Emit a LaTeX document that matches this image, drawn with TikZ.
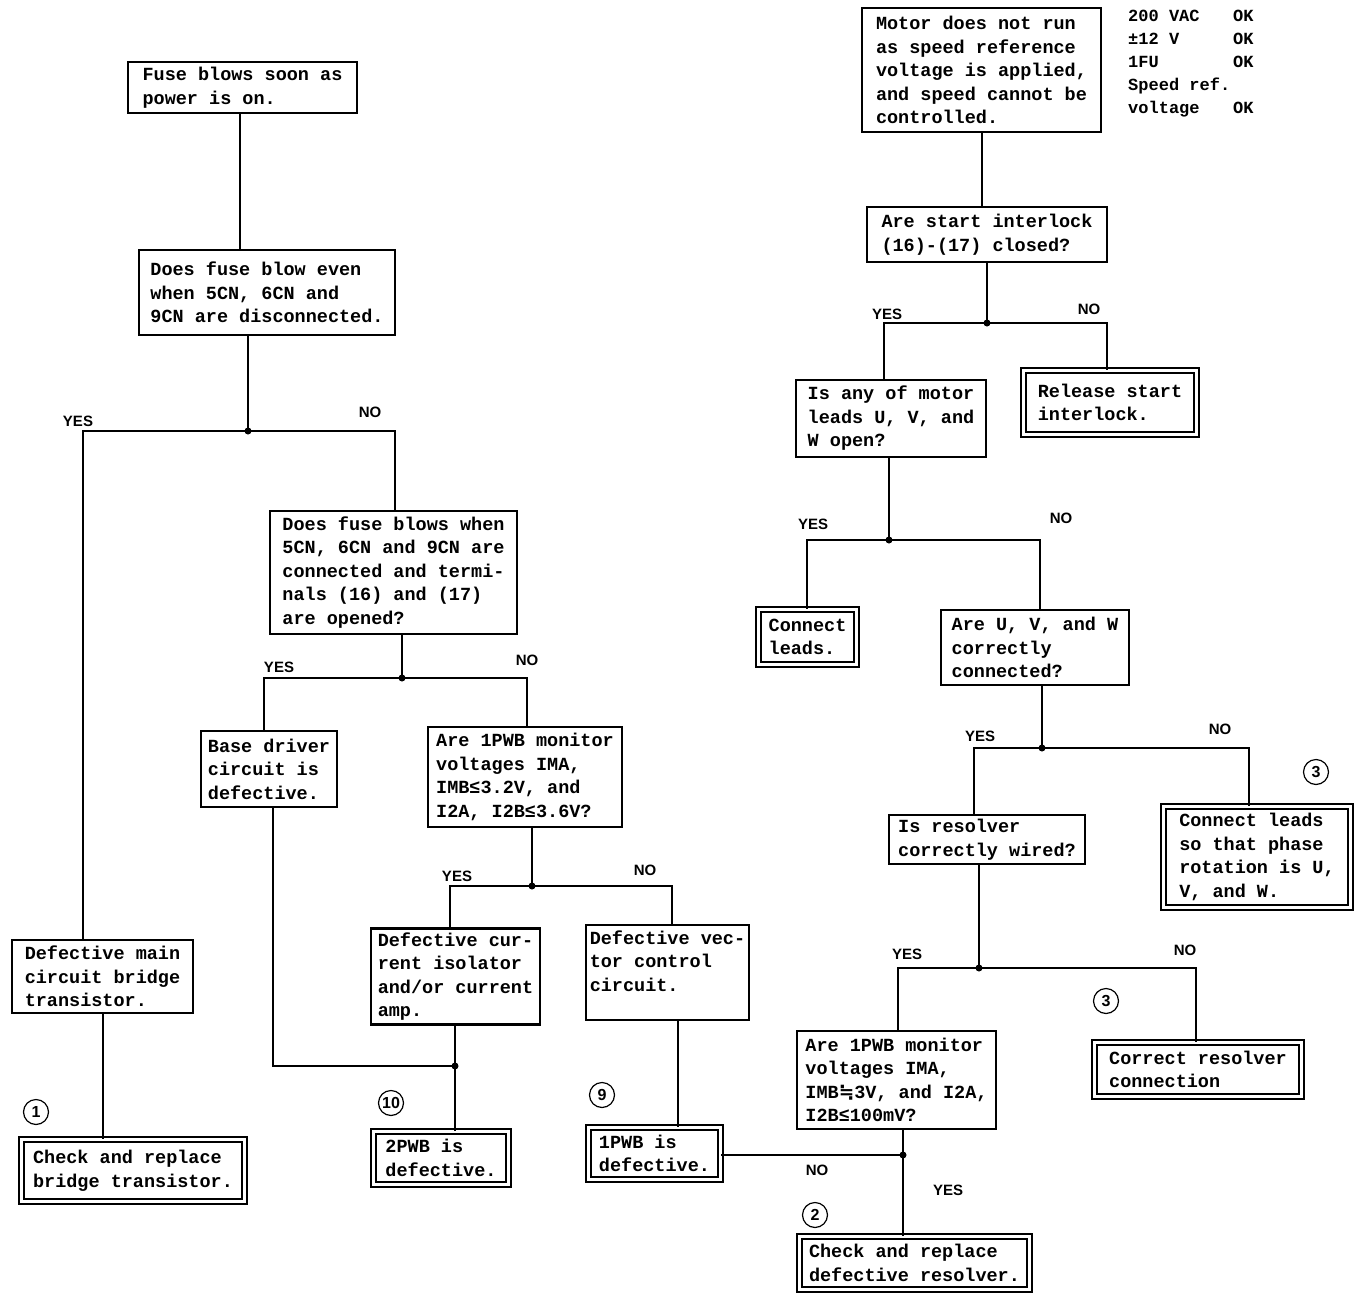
\documentclass[tikz,border=0pt]{standalone}
\usepackage{fontspec}
\newfontfamily\boxfont{Liberation Mono}
\newfontfamily\labfont{Liberation Sans}
\newfontfamily\symfont{DejaVu Sans}
\begin{document}
\begin{tikzpicture}[x=1pt,y=-1pt,
  box/.style={draw, line width=2.2pt, align=left, inner sep=4pt,
    font=\boxfont\bfseries\fontsize{18.5pt}{23.5pt}\selectfont},
  dbox/.style={box, line width=1.8pt, double, double distance=3.5pt},
  lab/.style={font=\labfont\bfseries\fontsize{15pt}{18pt}\selectfont},
  conn/.style={line width=2pt},
  num/.style={draw, circle, line width=1.2pt, inner sep=0pt, minimum size=25pt,
    font=\labfont\bfseries\fontsize{16pt}{18pt}\selectfont},
  jdot/.style={fill=black}]
\useasboundingbox (0,0) rectangle (1361,1296);
\fill[white] (0,0) rectangle (1361,1296);

% ---------- left part ----------
\node[box, minimum width=229pt, minimum height=51pt] (n1) at (242.5,87.5) {Fuse blows soon as\\power is on.};
\node[box, minimum width=256pt, minimum height=85pt] (n2) at (267,292.5) {Does fuse blow even\\when 5CN, 6CN and\\9CN are disconnected.};
\node[box, minimum width=181pt, minimum height=73pt] (n3) at (102.5,976.5) {Defective main\\circuit bridge\\transistor.};
\node[box, minimum width=247pt, minimum height=123pt, inner ysep=2pt] (n4) at (393.5,572.5) {Does fuse blows when\\5CN, 6CN and 9CN are\\connected and termi-\\nals (16) and (17)\\are opened?};
\node[box, minimum width=136pt, minimum height=76pt] (n5) at (269,769) {Base driver\\circuit is\\defective.};
\node[box, minimum width=194pt, minimum height=100pt] (n6) at (525,777) {Are 1PWB monitor\\voltages IMA,\\IMB≤3.2V, and\\I2A, I2B≤3.6V?};
\node[box, minimum width=169pt, minimum height=93pt] (n7) at (455.5,976.5) {Defective cur-\\rent isolator\\and/or current\\amp.};
\node[box, minimum width=161pt, minimum height=95pt] (n8) at (667.5,972.5) {Defective vec-\\tor control\\circuit.\\\mbox{}};
\node[dbox, minimum width=223pt, minimum height=62pt] (n9) at (133,1170.5) {Check and replace\\bridge transistor.};
\node[dbox, minimum width=135pt, minimum height=53pt] (n10) at (441,1158) {2PWB is\\defective.};
\node[dbox, minimum width=132pt, minimum height=52pt] (n11) at (654.5,1153.5) {1PWB is\\defective.};

% ---------- right part ----------
\node[box, minimum width=239pt, minimum height=124pt, inner ysep=2pt] (n12) at (981.5,70) {Motor does not run\\as speed reference\\voltage is applied,\\and speed cannot be\\controlled.};
\node[anchor=north west, align=left, inner sep=0pt,
  font=\boxfont\bfseries\fontsize{17pt}{23pt}\selectfont] (note) at (1128,10)
  {\makebox[105pt][l]{200 VAC}OK\\\makebox[105pt][l]{±12 V}OK\\\makebox[105pt][l]{1FU}OK\\Speed ref.\\\makebox[105pt][l]{voltage}OK};
\node[box, minimum width=240pt, minimum height=55pt] (n13) at (987,234.5) {Are start interlock\\(16)-(17) closed?};
\node[box, minimum width=190pt, minimum height=77pt] (n14) at (891,418.5) {Is any of motor\\leads U, V, and\\W open?};
\node[dbox, minimum width=173pt, minimum height=64pt] (n15) at (1110,402.5) {Release start\\interlock.};
\node[dbox, minimum width=98pt, minimum height=55pt] (n16) at (807.5,637) {Connect\\leads.};
\node[box, minimum width=188pt, minimum height=75pt] (n17) at (1035,647.5) {Are U, V, and W\\correctly\\connected?};
\node[box, minimum width=196pt, minimum height=49pt] (n18) at (987,839.5) {Is resolver\\correctly wired?};
\node[dbox, minimum width=187pt, minimum height=101pt] (n19) at (1257,857) {Connect leads\\so that phase\\rotation is U,\\V, and W.};
\node[box, minimum width=199pt, minimum height=98pt] (n20) at (896.5,1080) {Are 1PWB monitor\\voltages IMA,\\IMB{\symfont ≒}3V, and I2A,\\I2B≤100mV?};
\node[dbox, minimum width=207pt, minimum height=54pt] (n21) at (1198,1069.5) {Correct resolver\\connection};
\node[dbox, minimum width=230pt, minimum height=53pt] (n22) at (914.5,1263) {Check and replace\\defective resolver.};

% ---------- junctions ----------
\coordinate (j1) at (248,431);
\coordinate (j2) at (402,678);
\coordinate (j3) at (532,886);
\coordinate (j4) at (455,1066);
\coordinate (j5) at (987,323);
\coordinate (j6) at (889,540);
\coordinate (j7) at (1042,748);
\coordinate (j8) at (979,968);
\coordinate (j9) at (903,1155);

% ---------- connectors ----------
\begin{scope}[conn]
\draw ([xshift=-2.5pt]n1.south) -- ([xshift=-2.5pt]n1.south |- n2.north);
\draw (j1 |- n2.south) -- (j1);
\draw (j1) -| ([xshift=-19.5pt]n3.north);
\draw (j1) -| ([xshift=1.5pt]n4.north);
\draw ([xshift=0.5pt]n3.south) -- ([xshift=0.5pt]n3.south |- n9.north);
\draw (j2 |- n4.south) -- (j2);
\draw (j2) -| ([xshift=-5pt]n5.north);
\draw (j2) -| ([xshift=2pt]n6.north);
\draw ([xshift=4pt]n5.south) |- (j4);
\draw (j3 |- n6.south) -- (j3);
\draw (j3) -| ([xshift=-5.5pt]n7.north);
\draw (j3) -| ([xshift=4.5pt]n8.north);
\draw (j4 |- n7.south) -- (j4 |- n10.north);
\draw ([xshift=10.5pt]n8.south) -- ([xshift=10.5pt]n8.south |- n11.north);

\draw ([xshift=0.5pt]n12.south) -- ([xshift=0.5pt]n12.south |- n13.north);
\draw (j5 |- n13.south) -- (j5);
\draw (j5) -| ([xshift=-7pt]n14.north);
\draw (j5) -| ([xshift=-3pt]n15.north);
\draw (j6 |- n14.south) -- (j6);
\draw (j6) -| ([xshift=-0.5pt]n16.north);
\draw (j6) -| ([xshift=5pt]n17.north);
\draw (j7 |- n17.south) -- (j7);
\draw (j7) -| ([xshift=-13pt]n18.north);
\draw (j7) -| ([xshift=-8pt]n19.north);
\draw (j8 |- n18.south) -- (j8);
\draw (j8) -| ([xshift=1.5pt]n20.north);
\draw (j8) -| ([xshift=-2pt]n21.north);
\draw (j9 |- n20.south) -- (j9);
\draw (j9) -- (n11.east |- j9);
\draw (j9) -- (j9 |- n22.north);
\end{scope}
\foreach \j in {j1,j2,j3,j4,j5,j6,j7,j8,j9} \fill[jdot] (\j) circle (3.5pt);

% ---------- labels ----------
\node[lab] (l1) at (78,421) {YES};
\node[lab] (l2) at (370,412) {NO};
\node[lab] (l3) at (279,667) {YES};
\node[lab] (l4) at (527,660) {NO};
\node[lab] (l5) at (457,876) {YES};
\node[lab] (l6) at (645,870) {NO};
\node[lab] (l7) at (887,314) {YES};
\node[lab] (l8) at (1089,309) {NO};
\node[lab] (l9) at (813,524) {YES};
\node[lab] (l10) at (1061,518) {NO};
\node[lab] (l11) at (980,736) {YES};
\node[lab] (l12) at (1220,729) {NO};
\node[lab] (l13) at (907,954) {YES};
\node[lab] (l14) at (1185,950) {NO};
\node[lab] (l15) at (817,1170) {NO};
\node[lab] (l16) at (948,1190) {YES};

% ---------- circled numbers ----------
\node[num] (c1) at (36,1112) {1};
\node[num] (c10) at (391,1103) {10};
\node[num] (c9) at (602,1095) {9};
\node[num] (c3a) at (1106,1001) {3};
\node[num] (c2) at (815,1215) {2};
\node[num] (c3b) at (1316,772) {3};
\end{tikzpicture}
\end{document}
